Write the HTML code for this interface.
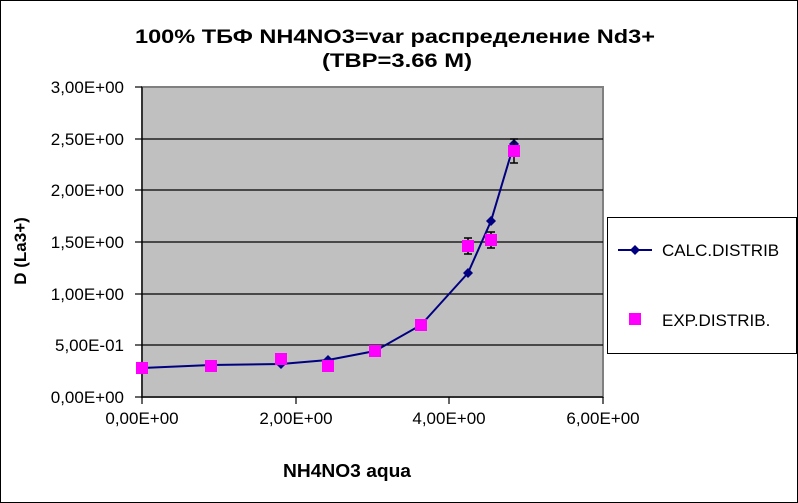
<!DOCTYPE html>
<html><head><meta charset="utf-8"><style>
body{margin:0;background:#fff}
svg{display:block;font-family:"Liberation Sans",Arial,sans-serif}
</style></head><body>
<svg width="798" height="503" viewBox="0 0 798 503">
<rect x="0.5" y="0.5" width="797" height="502" fill="#fff" stroke="#000"/>
<text x="135" y="43" font-size="19" font-weight="bold" textLength="520" lengthAdjust="spacingAndGlyphs">100%  ТБФ  NH4NO3=var распределение Nd3+</text>
<text x="322" y="67" font-size="19" font-weight="bold" textLength="150" lengthAdjust="spacingAndGlyphs">(TBP=3.66 M)</text>
<rect x="142" y="87" width="461" height="310" fill="#c0c0c0" stroke="#808080" stroke-width="2"/>
<g stroke="#000" stroke-width="1.2">
<line x1="142" y1="139" x2="603" y2="139"/><line x1="142" y1="190" x2="603" y2="190"/>
<line x1="142" y1="242" x2="603" y2="242"/><line x1="142" y1="294" x2="603" y2="294"/>
<line x1="142" y1="345" x2="603" y2="345"/>
<line x1="142" y1="87" x2="142" y2="397"/><line x1="142" y1="397" x2="603" y2="397"/>
<line x1="135" y1="87" x2="142" y2="87"/><line x1="135" y1="139" x2="142" y2="139"/><line x1="135" y1="190" x2="142" y2="190"/><line x1="135" y1="242" x2="142" y2="242"/><line x1="135" y1="294" x2="142" y2="294"/><line x1="135" y1="345" x2="142" y2="345"/><line x1="135" y1="397" x2="142" y2="397"/>
<line x1="142" y1="397" x2="142" y2="404"/><line x1="296" y1="397" x2="296" y2="404"/><line x1="449" y1="397" x2="449" y2="404"/><line x1="603" y1="397" x2="603" y2="404"/>
</g>
<g font-size="17" text-anchor="end">
<text x="124" y="93">3,00E+00</text><text x="124" y="145">2,50E+00</text><text x="124" y="196">2,00E+00</text><text x="124" y="248">1,50E+00</text><text x="124" y="300">1,00E+00</text><text x="124" y="351">5,00E-01</text><text x="124" y="403">0,00E+00</text>
</g>
<g font-size="17" text-anchor="middle">
<text x="142" y="424">0,00E+00</text><text x="296" y="424">2,00E+00</text><text x="449" y="424">4,00E+00</text><text x="603" y="424">6,00E+00</text>
</g>
<text x="283" y="477" font-size="18" font-weight="bold" textLength="128" lengthAdjust="spacingAndGlyphs">NH4NO3  aqua</text>
<text transform="translate(26,251) rotate(-90)" font-size="17" font-weight="bold" text-anchor="middle">D (La3+)</text>
<polyline fill="none" stroke="#000080" stroke-width="2" points="142,368 211,365 281,364 328,360 375,351 421,325 468,273 491,221 514,144"/>
<g fill="#000080">
<path d="M211,360 l5,5 -5,5 -5,-5z"/><path d="M281,359 l5,5 -5,5 -5,-5z"/><path d="M328,355 l5,5 -5,5 -5,-5z"/><path d="M468,268 l5,5 -5,5 -5,-5z"/><path d="M491,216 l5,5 -5,5 -5,-5z"/><path d="M514,139 l5,5 -5,5 -5,-5z"/>
</g>
<g stroke="#000" stroke-width="1.5">
<line x1="468" y1="238" x2="468" y2="254"/><line x1="464" y1="238" x2="472" y2="238"/><line x1="464" y1="254" x2="472" y2="254"/>
<line x1="491" y1="232" x2="491" y2="248"/><line x1="487" y1="232" x2="495" y2="232"/><line x1="487" y1="248" x2="495" y2="248"/>
<line x1="514" y1="139" x2="514" y2="163"/><line x1="510" y1="139" x2="518" y2="139"/><line x1="510" y1="163" x2="518" y2="163"/>
</g>
<g fill="#ff00ff">
<rect x="136" y="362" width="12" height="12"/><rect x="205" y="360" width="12" height="12"/><rect x="275" y="353" width="12" height="12"/><rect x="322" y="360" width="12" height="12"/><rect x="369" y="345" width="12" height="12"/><rect x="415" y="319" width="12" height="12"/><rect x="462" y="240" width="12" height="12"/><rect x="485" y="234" width="12" height="12"/><rect x="508" y="145" width="12" height="12"/>
</g>
<rect x="607.5" y="217.5" width="189" height="136" fill="#fff" stroke="#000"/>
<line x1="618" y1="250" x2="652" y2="250" stroke="#000080" stroke-width="2"/>
<path d="M635,245 l5,5 -5,5 -5,-5z" fill="#000080"/>
<text x="662" y="256" font-size="17">CALC.DISTRIB</text>
<rect x="629" y="313" width="12" height="12" fill="#ff00ff"/>
<text x="662" y="326" font-size="17">EXP.DISTRIB.</text>
</svg>
</body></html>
